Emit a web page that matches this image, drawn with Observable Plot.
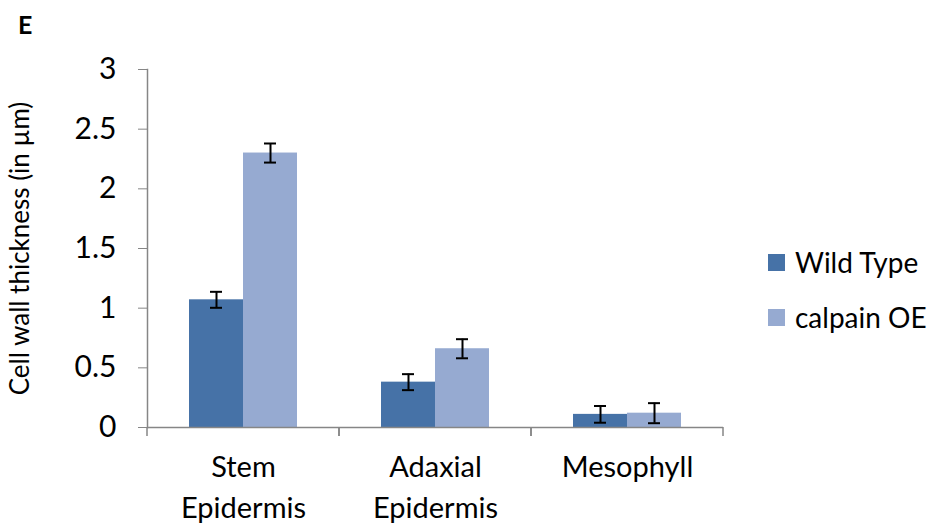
<!DOCTYPE html>
<html>
<head>
<meta charset="utf-8">
<script src="https://cdn.jsdelivr.net/npm/d3@7"></script>
<script src="https://cdn.jsdelivr.net/npm/@observablehq/plot@0.6"></script>
<style>
  body { margin: 0; background: #fff; }
  #chart { position: relative; width: 933px; height: 523px; font-family: Lato, "Open Sans", sans-serif; color: #000; }
  #panel { position: absolute; left: 18px; top: 12px; font-weight: bold; font-size: 25px; line-height: 1; }
  .key { position: absolute; left: 768px; display: flex; align-items: center; font-size: 28px; line-height: 34px; }
  .key span.sw { width: 17px; height: 17px; margin-right: 10px; display: inline-block; }
</style>
</head>
<body>
<div id="chart">
  <div id="panel">E</div>
</div>
<script>
// Tissue categories and the two lines compared
const categories = ["Stem Epidermis", "Adaxial Epidermis", "Mesophyll"];
const series = ["Wild Type", "calpain OE"];
const colors = ["#4672a7", "#96aad1"];

// Mean cell wall thickness (µm) and error half-widths
const wildType = [1.07, 0.38, 0.11];
const calpainOE = [2.30, 0.66, 0.12];
const wildTypeErr = [0.067, 0.067, 0.07];
const calpainOEErr = [0.08, 0.08, 0.084];

const yTicks = [0, 0.5, 1, 1.5, 2, 2.5, 3];
const yLabel = "Cell wall thickness (in µm)";

const rows = categories.flatMap((category, i) => [
  {category, series: series[0], value: wildType[i], err: wildTypeErr[i]},
  {category, series: series[1], value: calpainOE[i], err: calpainOEErr[i]}
]);

const axisGray = "#868686";

// Short ticks on the category boundaries of the baseline
function boundaryTicks(index, scales) {
  const g = d3.create("svg:g").attr("stroke", axisGray).attr("stroke-width", 1.5);
  const [x0, x1] = scales.x.range();
  const y0 = scales.y(0);
  for (const x of [x0, x1]) {
    g.append("line").attr("x1", x).attr("x2", x).attr("y1", y0).attr("y2", y0 + 9);
  }
  return g.node();
}

const chart = Plot.plot({
  width: 933,
  height: 523,
  marginLeft: 147,
  marginRight: 210,
  marginTop: 69,
  marginBottom: 96,
  style: {fontFamily: "Lato, 'Open Sans', sans-serif", color: "#000", background: "#fff", overflow: "visible"},
  fx: {domain: categories, padding: 0, label: null},
  x: {domain: series, paddingInner: 0, paddingOuter: 0.75, axis: null},
  y: {domain: [0, 3]},
  color: {domain: series, range: colors},
  marks: [
    Plot.barY(rows, {fx: "category", x: "series", y: "value", fill: "series"}),
    Plot.ruleX(rows, {fx: "category", x: "series", y1: d => d.value - d.err, y2: d => d.value + d.err, stroke: "#000", strokeWidth: 2}),
    Plot.tickY(rows, {fx: "category", x: "series", y: d => d.value - d.err, stroke: "#000", strokeWidth: 2, insetLeft: 21, insetRight: 21}),
    Plot.tickY(rows, {fx: "category", x: "series", y: d => d.value + d.err, stroke: "#000", strokeWidth: 2, insetLeft: 21, insetRight: 21}),
    Plot.ruleY([0], {stroke: axisGray, strokeWidth: 1.5}),
    Plot.frame({anchor: "left", facet: "super", stroke: axisGray, strokeWidth: 1.5}),
    boundaryTicks,
    Plot.axisY({ticks: yTicks, tickSize: 9, tickPadding: 22, stroke: axisGray, fill: "#000", fontSize: 30, label: null,
      tickFormat: d => String(d)}),
    Plot.axisY({ticks: [], label: yLabel, labelAnchor: "center", labelOffset: 137, labelArrow: "none", fontSize: 26, fill: "#000"}),
    Plot.axisFx({anchor: "bottom", tickSize: 0, tickPadding: 21, fontSize: 29, lineHeight: 1.4, fill: "#000", label: null,
      tickFormat: d => d.replace(" ", "\n")})
  ]
});

const host = document.getElementById("chart");
host.insertBefore(chart, host.firstChild);

// Series key on the right
series.forEach((name, i) => {
  const item = document.createElement("div");
  item.className = "key";
  item.style.top = (i === 0 ? 245 : 300) + "px";
  item.innerHTML = `<span class="sw" style="background:${colors[i]}"></span><span>${name}</span>`;
  host.appendChild(item);
});
</script>
</body>
</html>
